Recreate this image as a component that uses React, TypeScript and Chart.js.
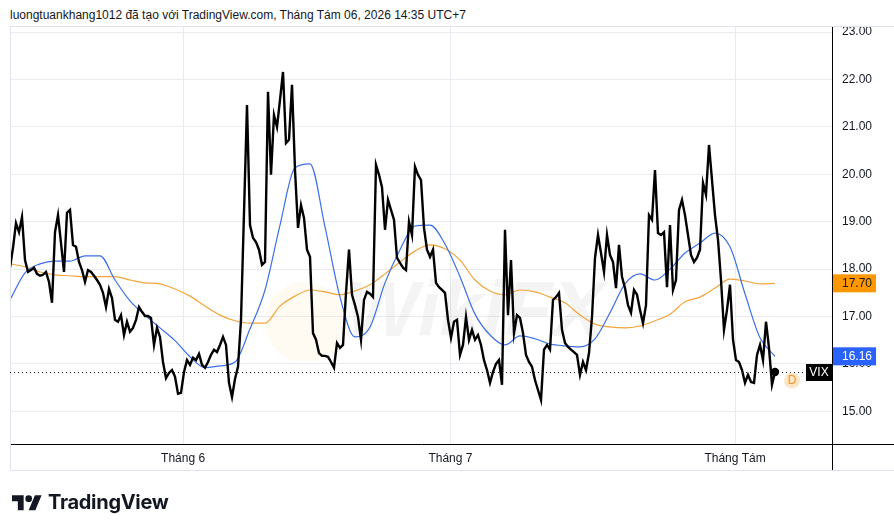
import React, { useEffect, useRef } from "react";
import { Chart, registerables } from "chart.js";

Chart.register(...registerables);

// VIX bars (one per bar index)
const vix = [
  18.03, 18.45, 18.97, 18.78, 19.10, 18.19, 17.94, 17.98, 18.03, 17.90,
  17.86, 17.88, 17.94, 17.73, 17.29, 18.78, 19.14, 18.55, 17.94, 19.19,
  19.25, 18.51, 18.47, 18.15, 17.98, 17.73, 17.98, 17.94, 17.86, 17.77,
  17.67, 17.50, 17.20, 17.58, 17.39, 16.93, 16.89, 17.03, 16.61, 16.89,
  16.68, 16.76, 16.93, 17.20, 17.10, 17.01, 17.01, 16.97, 16.40, 16.76,
  16.57, 16.04, 15.70, 15.81, 15.87, 15.73, 15.37, 15.39, 15.83, 16.08,
  15.98, 16.13, 16.08, 16.21, 15.98, 15.92, 16.04, 16.19, 16.30, 16.25,
  16.40, 16.57, 16.40, 15.60, 15.30, 15.68, 15.94, 16.93, 19.19, 21.46,
  18.93, 18.66, 18.57, 18.41, 18.09, 18.15, 21.74, 19.99, 21.25, 21.00,
  21.57, 22.16, 20.66, 20.73, 21.89, 20.09, 18.87, 19.35, 19.08, 18.41,
  18.26, 16.65, 16.51, 16.23, 16.17, 16.17, 16.15, 16.04, 15.92, 16.44,
  16.34, 16.40, 17.50, 18.41, 17.46, 17.24, 16.99, 16.51, 17.35, 17.52,
  17.48, 17.41, 20.20, 19.99, 19.73, 18.83, 19.46, 19.25, 19.04, 18.24,
  18.13, 18.03, 17.98, 19.00, 18.72, 20.16, 19.99, 19.88, 18.87, 18.41,
  18.26, 18.41, 17.71, 17.62, 17.56, 17.50, 16.93, 16.55, 16.89, 16.93,
  16.19, 16.40, 16.99, 16.51, 16.72, 16.51, 16.61, 16.40, 16.08, 15.87,
  15.60, 15.83, 16.00, 16.08, 15.56, 18.83, 17.03, 18.19, 16.65, 17.03,
  16.97, 16.65, 16.19, 16.04, 15.94, 15.66, 15.45, 15.24, 16.30, 16.40,
  16.30, 17.35, 17.41, 17.50, 16.72, 16.44, 16.36, 16.30, 16.25, 16.19,
  15.77, 16.04, 15.87, 16.23, 16.99, 18.24, 18.72, 18.34, 17.94, 18.72,
  18.30, 18.15, 17.60, 18.51, 17.84, 17.60, 17.24, 17.08, 17.56, 17.46,
  17.14, 16.86, 17.24, 19.14, 19.04, 20.09, 18.76, 18.72, 18.78, 17.62,
  18.93, 17.56, 17.77, 19.25, 19.46, 19.14, 18.72, 18.30, 18.15, 18.24,
  18.41, 19.82, 19.57, 20.62, 19.88, 19.14, 18.62, 17.77, 16.72, 17.14,
  17.67, 16.51, 16.08, 16.04, 15.87, 15.60, 15.77, 15.62, 15.60, 16.19,
  16.40, 16.08, 16.89, 16.34, 15.56, 15.83,
];

// Moving averages, one value every MA_STEP bars
const MA_STEP = 5;
const blueMA = [
  17.35, 17.92, 18.11, 18.17, 18.17, 18.28, 18.28, 17.77, 17.33, 17.03,
  16.76, 16.49, 16.15, 15.92, 15.96, 16.04, 16.74, 17.56, 18.93, 20.14,
  20.22, 18.89, 17.41, 16.57, 16.78, 17.71, 18.41, 18.91, 18.93, 18.53,
  17.84, 17.05, 16.61, 16.40, 16.59, 16.53, 16.42, 16.38, 16.36, 16.53,
  17.08, 17.69, 17.90, 17.77, 18.00, 18.34, 18.55, 18.76, 18.47, 17.48,
  16.55, 16.16,
];
const orangeMA = [
  18.11, 18.05, 17.94, 17.88, 17.86, 17.84, 17.84, 17.84, 17.77, 17.71,
  17.69, 17.58, 17.43, 17.22, 17.03, 16.91, 16.86, 16.86, 17.22, 17.43,
  17.56, 17.52, 17.46, 17.54, 17.67, 17.90, 18.15, 18.38, 18.51, 18.43,
  18.19, 17.77, 17.54, 17.46, 17.56, 17.52, 17.41, 17.29, 17.03, 16.84,
  16.78, 16.76, 16.80, 16.91, 17.05, 17.31, 17.41, 17.60, 17.79, 17.75,
  17.69, 17.70,
];

const yTickValues = [15, 16, 17, 18, 19, 20, 21, 22, 23];
const Y_MIN = 14.31;
const Y_MAX = 23.13;
const X_MAX_BARS = 274;
const monthTickBars = [57.7, 146.8, 241.7];
const monthLabels = ["Tháng 6", "Tháng 7", "Tháng Tám"];
const headerText =
  "luongtuankhang1012 đã tạo với TradingView.com, Tháng Tám 06, 2026 14:35 UTC+7";
const symbolName = "VIX";
const intervalName = "D";

const FONT = "'Liberation Sans', Arial, sans-serif";

const overlayPlugin = {
  id: "tvOverlay",
  beforeDatasetsDraw(chart: any) {
    const ctx = chart.ctx;
    ctx.save();
    // faint watermark
    ctx.fillStyle = "rgba(250, 215, 120, 0.09)";
    ctx.beginPath();
    ctx.arc(305, 322, 40, 0, Math.PI * 2);
    ctx.fill();
    ctx.fillStyle = "rgba(150, 150, 150, 0.10)";
    ctx.font = "italic bold 78px " + FONT;
    ctx.textBaseline = "alphabetic";
    ctx.fillText("WikiFX", 345, 336);
    ctx.restore();
  },
  afterDraw(chart: any) {
    const ctx = chart.ctx;
    const { left, right, top, bottom } = chart.chartArea;
    const W = chart.width;
    const ys = chart.scales.y;
    const xs = chart.scales.x;
    ctx.save();
    // pane borders
    ctx.strokeStyle = "#e0e3eb";
    ctx.lineWidth = 1;
    ctx.beginPath();
    ctx.moveTo(left, top + 0.5);
    ctx.lineTo(W, top + 0.5);
    ctx.moveTo(left + 0.5, top);
    ctx.lineTo(left + 0.5, bottom + 26);
    ctx.moveTo(left, bottom + 26.5);
    ctx.lineTo(W, bottom + 26.5);
    ctx.stroke();
    // black axis line extensions
    ctx.strokeStyle = "#000";
    ctx.beginPath();
    ctx.moveTo(right, bottom + 0.5);
    ctx.lineTo(W, bottom + 0.5);
    ctx.moveTo(right + 0.5, bottom);
    ctx.lineTo(right + 0.5, bottom + 26);
    ctx.stroke();

    // last price dotted line
    const lastV = vix[vix.length - 1];
    const py = Math.round(ys.getPixelForValue(lastV)) + 0.5;
    ctx.strokeStyle = "#131722";
    ctx.setLineDash([1, 3]);
    ctx.beginPath();
    ctx.moveTo(left, py);
    ctx.lineTo(right - 26, py);
    ctx.stroke();
    ctx.setLineDash([]);

    // symbol label
    ctx.fillStyle = "#000";
    ctx.fillRect(right - 26, py - 8.5, 26, 17);
    ctx.fillStyle = "#fff";
    ctx.font = "12px " + FONT;
    ctx.textAlign = "center";
    ctx.textBaseline = "middle";
    ctx.fillText(symbolName, right - 13, py + 0.5);

    // interval marker
    const lastX = xs.getPixelForValue(vix.length - 1);
    ctx.fillStyle = "#fde6c6";
    ctx.beginPath();
    ctx.arc(lastX + 17, py + 8, 8, 0, Math.PI * 2);
    ctx.fill();
    ctx.fillStyle = "#f0952a";
    ctx.font = "12px " + FONT;
    ctx.fillText(intervalName, lastX + 17, py + 8.5);

    // price badges
    const badge = (v: number, bg: string, fg: string) => {
      const by = ys.getPixelForValue(v);
      ctx.fillStyle = bg;
      ctx.fillRect(right + 1, by - 9, 43, 18);
      ctx.fillStyle = fg;
      ctx.font = "12px " + FONT;
      ctx.textAlign = "left";
      ctx.textBaseline = "middle";
      ctx.fillText(v.toFixed(2), right + 10, by + 0.5);
    };
    badge(orangeMA[orangeMA.length - 1], "#ff9800", "#131722");
    badge(blueMA[blueMA.length - 1], "#2962ff", "#ffffff");
    ctx.restore();
  },
};

function App() {
  const ref = useRef<HTMLCanvasElement | null>(null);

  useEffect(() => {
    if (!ref.current) return;
    Chart.defaults.font.family = FONT;
    const chart = new Chart(ref.current, {
      type: "line",
      data: {
        datasets: [
          {
            label: "VIX",
            data: vix.map((v, i) => ({ x: i, y: v })),
            borderColor: "#000000",
            backgroundColor: "#000000",
            borderWidth: 2.4,
            pointRadius: (c: any) => (c.dataIndex === vix.length - 1 ? 3 : 0),
            tension: 0,
          },
          {
            label: "MA fast",
            data: blueMA.map((v, k) => ({ x: k * MA_STEP, y: v })),
            borderColor: "#3b6fe6",
            borderWidth: 1.2,
            pointRadius: 0,
            cubicInterpolationMode: "monotone",
          },
          {
            label: "MA slow",
            data: orangeMA.map((v, k) => ({ x: k * MA_STEP, y: v })),
            borderColor: "#f3a43b",
            borderWidth: 1.2,
            pointRadius: 0,
            cubicInterpolationMode: "monotone",
          },
        ],
      },
      options: {
        animation: false,
        responsive: false,
        devicePixelRatio: 1,
        layout: { padding: { left: 10, top: 26, right: 0, bottom: 62 } },
        plugins: { legend: { display: false }, tooltip: { enabled: false } },
        scales: {
          x: {
            type: "linear",
            min: 0,
            max: X_MAX_BARS,
            afterBuildTicks: (s: any) => {
              s.ticks = monthTickBars.map((v) => ({ value: v }));
            },
            afterFit: (s: any) => {
              s.height = 26;
            },
            ticks: {
              callback: (_v: any, i: number) => monthLabels[i],
              autoSkip: false,
              maxRotation: 0,
              padding: 7,
              color: "#131722",
              font: { size: 12, family: FONT },
            },
            grid: { color: "#e9ebf0", drawTicks: false },
            border: { color: "#000000", width: 1 },
          },
          y: {
            position: "right",
            min: Y_MIN,
            max: Y_MAX,
            afterBuildTicks: (s: any) => {
              s.ticks = yTickValues.map((v) => ({ value: v }));
            },
            afterFit: (s: any) => {
              s.width = 62;
            },
            ticks: {
              callback: (v: any) => Number(v).toFixed(2),
              padding: 10,
              color: "#131722",
              font: { size: 12, family: FONT },
            },
            grid: { color: "#e9ebf0", drawTicks: false },
            border: { color: "#000000", width: 1 },
          },
        },
      } as any,
      plugins: [overlayPlugin],
    });
    return () => chart.destroy();
  }, []);

  return (
    <div
      style={{
        position: "absolute",
        left: 0,
        top: 0,
        width: 894,
        height: 532,
        background: "#ffffff",
        overflow: "hidden",
        fontFamily: FONT,
      }}
    >
      <div
        style={{
          position: "absolute",
          left: 10,
          top: 6,
          fontSize: 12,
          color: "#131722",
          whiteSpace: "nowrap",
          lineHeight: "18px",
        }}
      >
        {headerText}
      </div>
      <canvas
        ref={ref}
        width={894}
        height={532}
        style={{ position: "absolute", left: 0, top: 0, width: 894, height: 532 }}
      />
      <svg
        style={{ position: "absolute", left: 12, top: 492 }}
        width={30}
        height={20}
        viewBox="0 0 36 24"
      >
        <path d="M14 22H7V11H0V4h14v18z" fill="#131722" />
        <circle cx="20" cy="8" r="4" fill="#131722" />
        <path d="M28 22h-8l7.5-18h8L28 22z" fill="#131722" />
      </svg>
      <div
        style={{
          position: "absolute",
          left: 48,
          top: 489,
          fontSize: 20,
          fontWeight: 700,
          fontFamily: "Inter, 'Liberation Sans', sans-serif",
          color: "#131722",
          letterSpacing: -0.3,
          lineHeight: "26px",
        }}
      >
        TradingView
      </div>
    </div>
  );
}

export default App;
